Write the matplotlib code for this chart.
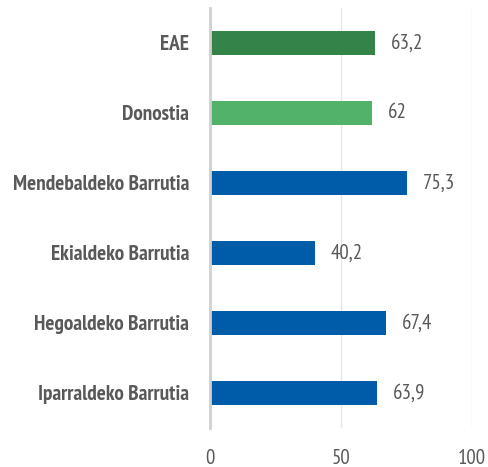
import matplotlib.pyplot as plt
from matplotlib import font_manager

# narrow sans for all chart text, first one installed wins
installed = {f.name for f in font_manager.fontManager.ttflist}
for fam in ['PT Sans Narrow', 'Archivo Narrow', 'Liberation Sans Narrow', 'DejaVu Sans']:
    if fam in installed:
        break
plt.rcParams['font.family'] = [fam, 'DejaVu Sans']

categories = ['EAE', 'Donostia', 'Mendebaldeko Barrutia', 'Ekialdeko Barrutia',
              'Hegoaldeko Barrutia', 'Iparraldeko Barrutia']
values = [63.2, 62, 75.3, 40.2, 67.4, 63.9]
labels = ['63,2', '62', '75,3', '40,2', '67,4', '63,9']
colors = ['#34844a', '#52b26a', '#005ca9', '#005ca9', '#005ca9', '#005ca9']
xticks = [0, 50, 100]

fig = plt.figure(figsize=(4.88, 4.67), dpi=100)
ax = fig.add_axes([0.430, 0.0835, 0.537, 0.8995])

pos = list(range(len(categories)))
ax.barh(pos, values, height=0.35, color=colors, zorder=3)
for p, v, lab in zip(pos, values, labels):
    ax.text(v + 6, p, lab, va='center', ha='left', fontsize=15, color='#595959')

ax.set_xlim(0, 100)
ax.set_ylim(len(categories) - 0.5, -0.5)
ax.set_yticks(pos)
ax.set_yticklabels(categories, fontsize=15.3, fontweight='bold', color='#595959')
ax.set_xticks(xticks)
ax.set_xticklabels([str(t) for t in xticks], fontsize=15, color='#595959')
ax.tick_params(axis='x', length=0, pad=15)
ax.tick_params(axis='y', length=0, pad=15)

ax.grid(axis='x', color='#e6e6e6', linewidth=1, zorder=0)
for s in ['top', 'right', 'bottom']:
    ax.spines[s].set_visible(False)
ax.spines['left'].set_color('#d0d0d0')
ax.spines['left'].set_linewidth(2)
ax.spines['left'].set_zorder(4)

fig.savefig('out.png', dpi=100)
